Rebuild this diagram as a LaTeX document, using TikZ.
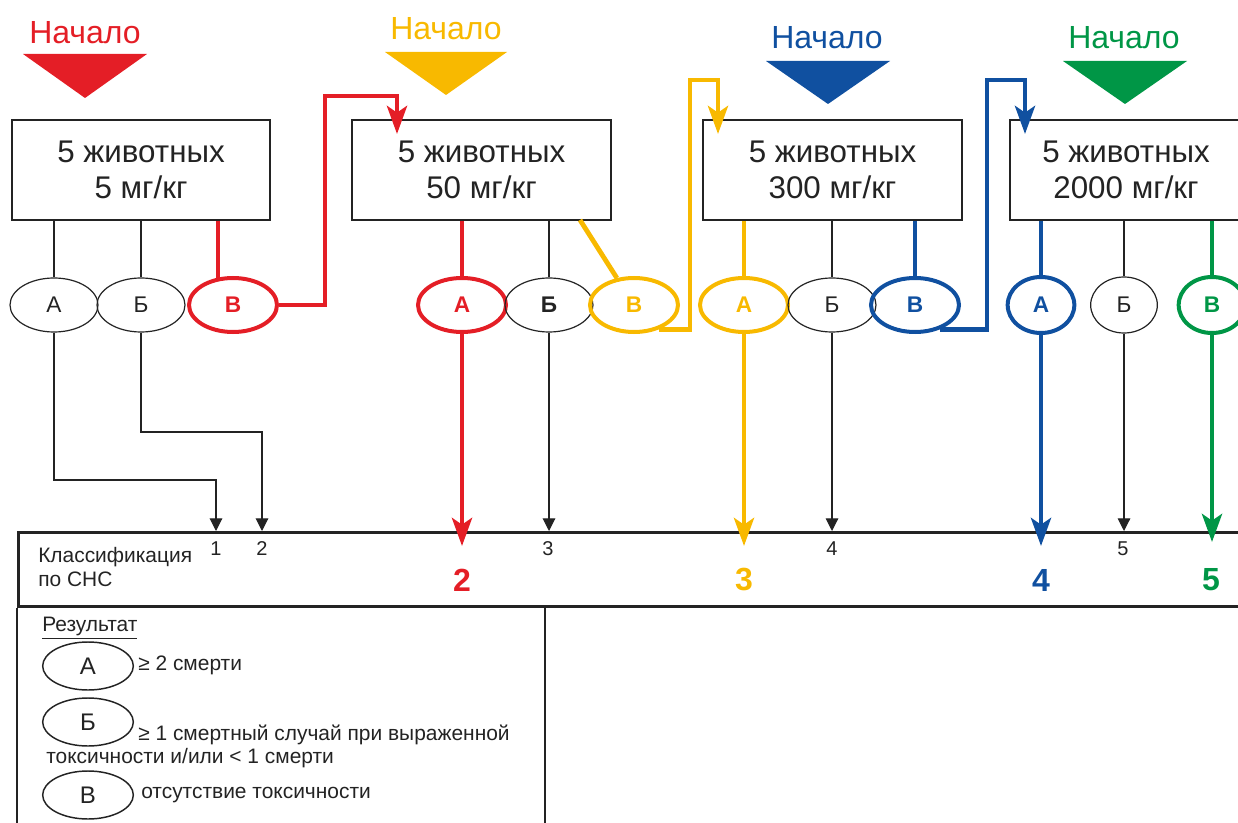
\documentclass[tikz,border=0pt]{standalone}
\usepackage{fontspec}
\setmainfont{Liberation Sans}
\usetikzlibrary{arrows.meta,shapes.geometric}
\definecolor{cred}{RGB}{228,30,38}
\definecolor{cyel}{RGB}{248,185,0}
\definecolor{cblu}{RGB}{16,80,160}
\definecolor{cgrn}{RGB}{0,150,70}
\definecolor{ink}{RGB}{35,35,35}
\begin{document}
\begin{tikzpicture}[x=0.75pt,y=-0.75pt,
 bx/.style={draw=ink,line width=2.2pt,minimum height=75pt,align=center,inner sep=0pt,font=\fontsize{23.5}{27}\selectfont,text=ink},
 startlbl/.style={font=\fontsize{24}{25}\selectfont,inner sep=0pt},
 oval/.style={ellipse,draw=ink,line width=0.9pt,minimum width=66pt,minimum height=40.5pt,inner sep=0pt,font=\fontsize{17}{17}\selectfont,text=ink},
 noval/.style={oval,minimum width=50pt,minimum height=42pt},
 coval/.style={line width=3pt,font=\fontsize{17}{17}\selectfont\bfseries},
 thinln/.style={draw=ink,line width=0.8pt},
 tarrow/.style={thinln,-{Triangle[length=9.5pt,width=9.5pt]}},
 thk/.style={line width=3.6pt},
 carrow/.style={thk,-{Stealth[length=21pt,width=15pt,inset=5pt]}},
 snum/.style={font=\fontsize{15}{15}\selectfont,text=ink,inner sep=0pt},
 bnum/.style={font=\fontsize{24}{24}\selectfont\bfseries,inner sep=0pt},
 lgtext/.style={font=\fontsize{15.7}{18}\selectfont,text=ink,anchor=west,inner sep=0pt},
 lgoval/.style={ellipse,draw=ink,line width=1.1pt,minimum width=68pt,minimum height=36pt,inner sep=0pt,font=\fontsize{18}{18}\selectfont,text=ink},
 frame/.style={draw=ink,line width=2.2pt}
]
\useasboundingbox (0,0) rectangle (1238,823);
\clip (0,0) rectangle (1238,823);

% ---- start labels and triangles
\node[startlbl,text=cred] (s1) at (85,33) {Начало};
\node[startlbl,text=cyel] (s2) at (446,29) {Начало};
\node[startlbl,text=cblu] (s3) at (827,38) {Начало};
\node[startlbl,text=cgrn] (s4) at (1124,38) {Начало};
\fill[cred] (23,54) -- (147,54) -- (85,98) -- cycle;
\fill[cyel] (385,52) -- (507,52) -- (446,95) -- cycle;
\fill[cblu] (766,61) -- (890,61) -- (828,104) -- cycle;
\fill[cgrn] (1063,61) -- (1187,61) -- (1125,104) -- cycle;

% ---- dose boxes
\node[bx,minimum width=193.5pt] (b1) at (141,170) {5 животных\\5 мг/кг};
\node[bx,minimum width=194.25pt] (b2) at (481.5,170) {5 животных\\50 мг/кг};
\node[bx,minimum width=194.25pt] (b3) at (832.5,170) {5 животных\\300 мг/кг};
\node[bx,minimum width=174pt] (b4) at (1126,170) {5 животных\\2000 мг/кг};

% ---- outcome ovals
\node[oval] (a1) at (54,305) {А};
\node[oval] (c1) at (141,305) {Б};
\node[oval,coval,draw=cred,text=cred] (v1) at (233,305) {В};

\node[oval,coval,draw=cred,text=cred] (a2) at (462,305) {А};
\node[oval,font=\fontsize{17}{17}\selectfont\bfseries] (c2) at (549,305) {Б};
\node[oval,coval,draw=cyel,text=cyel] (v2) at (634,305) {В};

\node[oval,coval,draw=cyel,text=cyel] (a3) at (744,305) {А};
\node[oval] (c3) at (832,305) {Б};
\node[oval,coval,draw=cblu,text=cblu] (v3) at (915,305) {В};

\node[noval,coval,draw=cblu,text=cblu] (a4) at (1041,305) {А};
\node[noval] (c4) at (1124,305) {Б};
\node[noval,coval,draw=cgrn,text=cgrn] (v4) at (1212,305) {В};

% ---- box -> oval lines
\coordinate (rv1) at (218,281);
\coordinate (yd) at (580,220);
\draw[thinln] (b1.south -| a1) -- (a1);
\draw[thinln] (b1.south -| c1) -- (c1);
\draw[thk,cred] (b1.south -| rv1) -- (rv1);
\draw[thk,cred] (b2.south -| a2) -- (a2);
\draw[thinln] (b2.south -| c2) -- (c2);
\draw[thk,cyel] (yd) -- (v2);
\draw[thk,cyel] (b3.south -| a3) -- (a3);
\draw[thinln] (b3.south -| c3) -- (c3);
\draw[thk,cblu] (b3.south -| v3) -- (v3);
\draw[thk,cblu] (b4.south -| a4) -- (a4);
\draw[thinln] (b4.south -| c4) -- (c4);
\draw[thk,cgrn] (b4.south -| v4) -- (v4);

% ---- escalation connectors
\coordinate (rA) at (325,96);
\coordinate (rB) at (397,134);
\coordinate (yA) at (690,80);
\coordinate (yB) at (718,134);
\coordinate (bA) at (987,80);
\coordinate (bB) at (1025,134);
\draw[carrow,cred] (v1.east) -| (rA) -| (rB);
\draw[carrow,cyel] (v2.-45) -| (yA) -| (yB);
\draw[carrow,cblu] (v3.-45) -| (bA) -| (bB);

% ---- classification box
\node[frame,minimum width=924.75pt,minimum height=55.5pt,anchor=north west,inner sep=0pt] (cls) at (17,531) {};
\coordinate (dv) at (545,605);
\draw[frame] (cls.south west) -- ++(0,240);
\draw[frame] (dv) -- ++(0,240);
\node[font=\fontsize{15.7}{18}\selectfont,text=ink,align=left,anchor=west,inner sep=0pt] (clsl) at (38,567) {Классификация\\по СНС};

% ---- arrows down to classification
\coordinate (t1) at (216,531);
\coordinate (t2) at (262,531);
\coordinate (lv) at (0,531);
\coordinate (lp) at (0,546);
\draw[tarrow] (a1) |- (t1 |- 0,480) -- (t1);
\draw[tarrow] (c1) |- (t2 |- 0,432) -- (t2);
\draw[tarrow] (c2) -- (c2 |- lv);
\draw[tarrow] (c3) -- (c3 |- lv);
\draw[tarrow] (c4) -- (c4 |- lv);
\draw[carrow,cred] (a2) -- (a2 |- lp);
\draw[carrow,cyel] (a3) -- (a3 |- lp);
\draw[carrow,cblu] (a4) -- (a4 |- lp);
\draw[carrow,cgrn] (v4) -- ([yshift=3pt]v4 |- lp);

\node[snum] (n1) at (216,549) {1};
\node[snum] (n2) at (262,549) {2};
\node[snum] (n3) at (548,549) {3};
\node[snum] (n4) at (832,549) {4};
\node[snum] (n5) at (1123,549) {5};
\node[bnum,text=cred] (m2) at (462,580) {2};
\node[bnum,text=cyel] (m3) at (744,580) {3};
\node[bnum,text=cblu] (m4) at (1041,580) {4};
\node[bnum,text=cgrn] (m5) at (1211,580) {5};

% ---- legend
\node[lgtext] (res) at (42,628) {\underline{Результат}};
\node[lgoval] (la) at (88,666) {А};
\node[lgoval] (lb) at (88,722) {Б};
\node[lgoval] (lc) at (88,795) {В};
\node[lgtext] (ta) at (138,665) {≥ 2 смерти};
\node[lgtext] (tb) at (138,735) {≥ 1 смертный случай при выраженной};
\node[lgtext] (tb2) at (46,758) {токсичности и/или < 1 смерти};
\node[lgtext] (tc) at (141,795) {отсутствие токсичности};
\end{tikzpicture}
\end{document}
